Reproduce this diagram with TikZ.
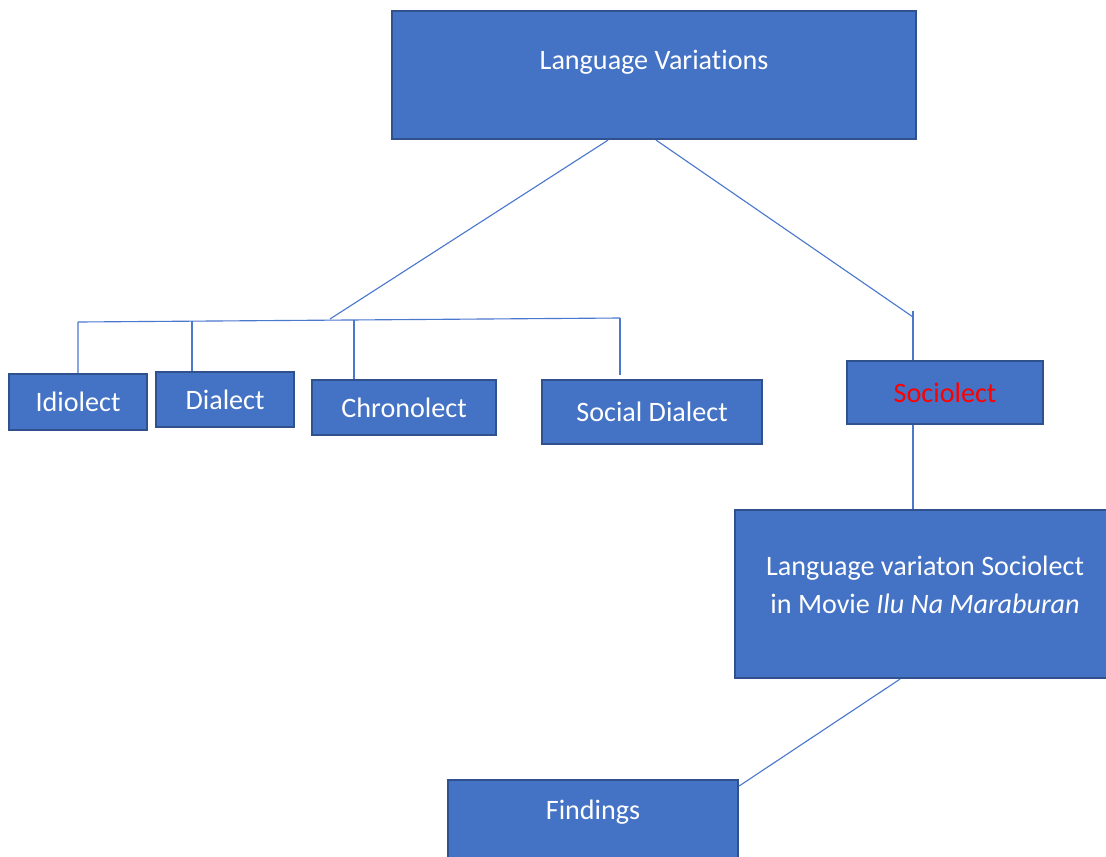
\documentclass[tikz,border=0pt]{standalone}
\usepackage{fontspec}
\setmainfont{Carlito}[Ligatures={NoCommon}]
\newcommand{\px}{0.025cm}
\definecolor{boxblue}{HTML}{4472C4}
\definecolor{boxedge}{HTML}{2F528F}
\definecolor{linkblue}{HTML}{4A78CC}
\tikzset{
  varbox/.style={rectangle, draw=boxedge, fill=boxblue, line width=1.5pt,
    inner sep=0pt, text=white, font=\fontsize{20}{27}\selectfont},
  boxlabel/.style={text=white, font=\fontsize{20}{27}\selectfont, align=center},
  link/.style={draw=linkblue, line width=0.8pt}
}

\begin{document}
\begin{tikzpicture}[x=\px, y=-\px]

  \useasboundingbox (0,0) rectangle (1106,856);

  \node[varbox, anchor=north west, minimum width=524*\px, minimum height=128*\px,
    label={[boxlabel, anchor=base, yshift=-59*\px]north:Language Variations}] (top) at (391,10) {};

  % level 2
  \node[varbox, anchor=north west, minimum width=138*\px, minimum height=56*\px] (idio) at (8,373) {Idiolect};
  \node[varbox, anchor=north west, minimum width=138*\px, minimum height=55*\px] (dial) at (155,371) {Dialect};
  \node[varbox, anchor=north west, minimum width=184*\px, minimum height=55*\px] (chrono) at (311,379) {Chronolect};
  \node[varbox, anchor=north west, minimum width=220*\px, minimum height=64*\px] (social) at (541,379) {Social Dialect};
  \node[varbox, anchor=north west, minimum width=196*\px, minimum height=63*\px, text=red] (socio) at (846,360) {Sociolect};

  \node[varbox, anchor=north west, minimum width=380*\px, minimum height=168*\px,
    label={[boxlabel, anchor=center, yshift=-76*\px]north:Language variaton Sociolect\\in Movie \textit{Ilu Na Maraburan}}] (movie) at (734,509) {};
  \node[varbox, anchor=north west, minimum width=290*\px, minimum height=120*\px,
    label={[boxlabel, anchor=base, yshift=-40*\px]north:Findings}] (find) at (447,779) {};

  \coordinate (barL) at (78,322);
  \coordinate (barM) at (330,319);
  \coordinate (barR) at (620,318);
  \coordinate (socBend) at (913,317);
  \coordinate (socTop) at (913,311);

  \draw[link] ([xshift=-46*\px]top.south) -- (barM);
  \draw[link] ([xshift=2*\px]top.south) -- (socBend);
  \draw[link] (barL) -- (barR);
  \draw[link] (barL) -- (idio.north);
  \draw[link] ([xshift=37*\px]dial.north west) -- ++(0,-50);
  \draw[link] ([xshift=43*\px]chrono.north west) -- ++(0,-59);
  \draw[link] (barR) -- ++(0,57);
  \draw[link] (socTop) -- (socTop |- socio.north);
  \draw[link] (socTop |- socio.south) -- (socTop |- movie.north);
  \draw[link] ([xshift=166*\px]movie.south west) -- ([yshift=-7*\px]find.north east);

\end{tikzpicture}
\end{document}
